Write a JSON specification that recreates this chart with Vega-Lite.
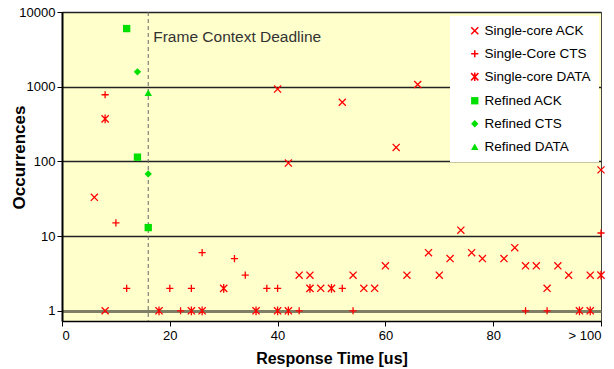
{
  "$schema": "https://vega.github.io/schema/vega-lite/v6.json",
  "width": 539,
  "height": 309,
  "autosize": "none",
  "padding": {"left": 62, "top": 12, "right": 13, "bottom": 48},
  "background": "white",
  "config": {
    "font": "Liberation Sans",
    "view": {"fill": "#FFFFCC", "stroke": "#444444", "strokeWidth": 1}
  },
  "layer": [
    {
      "data": {"values": [{}]},
      "mark": {"type": "rule", "color": "#666666", "strokeDash": [4, 3], "strokeWidth": 1},
      "encoding": {"x": {"datum": 16, "type": "quantitative", "scale": {"domain": [0, 100], "nice": false, "zero": false}}}
    },
    {
      "data": {"values": [{}]},
      "mark": {"type": "text", "align": "left", "baseline": "middle", "dx": 5, "fontSize": 15.5, "color": "#333333"},
      "encoding": {
        "x": {"datum": 16, "type": "quantitative"},
        "y": {"datum": 4600, "type": "quantitative"},
        "text": {"value": "Frame Context Deadline"}
      }
    },
    {
      "data": {
        "values": [
          {"x": 6, "y": 33, "s": "Single-core ACK"},
          {"x": 8, "y": 1, "s": "Single-core ACK"},
          {"x": 40, "y": 930, "s": "Single-core ACK"},
          {"x": 42, "y": 95, "s": "Single-core ACK"},
          {"x": 52, "y": 620, "s": "Single-core ACK"},
          {"x": 62, "y": 154, "s": "Single-core ACK"},
          {"x": 66, "y": 1070, "s": "Single-core ACK"},
          {"x": 100, "y": 77, "s": "Single-core ACK"},
          {"x": 44, "y": 3, "s": "Single-core ACK"},
          {"x": 46, "y": 3, "s": "Single-core ACK"},
          {"x": 54, "y": 3, "s": "Single-core ACK"},
          {"x": 64, "y": 3, "s": "Single-core ACK"},
          {"x": 70, "y": 3, "s": "Single-core ACK"},
          {"x": 48, "y": 2, "s": "Single-core ACK"},
          {"x": 56, "y": 2, "s": "Single-core ACK"},
          {"x": 58, "y": 2, "s": "Single-core ACK"},
          {"x": 60, "y": 4, "s": "Single-core ACK"},
          {"x": 68, "y": 6, "s": "Single-core ACK"},
          {"x": 72, "y": 5, "s": "Single-core ACK"},
          {"x": 74, "y": 12, "s": "Single-core ACK"},
          {"x": 76, "y": 6, "s": "Single-core ACK"},
          {"x": 78, "y": 5, "s": "Single-core ACK"},
          {"x": 82, "y": 5, "s": "Single-core ACK"},
          {"x": 84, "y": 7, "s": "Single-core ACK"},
          {"x": 86, "y": 4, "s": "Single-core ACK"},
          {"x": 88, "y": 4, "s": "Single-core ACK"},
          {"x": 92, "y": 4, "s": "Single-core ACK"},
          {"x": 90, "y": 2, "s": "Single-core ACK"},
          {"x": 94, "y": 3, "s": "Single-core ACK"},
          {"x": 98, "y": 3, "s": "Single-core ACK"},
          {"x": 8, "y": 780, "s": "Single-Core CTS"},
          {"x": 10, "y": 15, "s": "Single-Core CTS"},
          {"x": 100, "y": 11, "s": "Single-Core CTS"},
          {"x": 12, "y": 2, "s": "Single-Core CTS"},
          {"x": 20, "y": 2, "s": "Single-Core CTS"},
          {"x": 24, "y": 2, "s": "Single-Core CTS"},
          {"x": 38, "y": 2, "s": "Single-Core CTS"},
          {"x": 40, "y": 2, "s": "Single-Core CTS"},
          {"x": 52, "y": 2, "s": "Single-Core CTS"},
          {"x": 26, "y": 6, "s": "Single-Core CTS"},
          {"x": 32, "y": 5, "s": "Single-Core CTS"},
          {"x": 34, "y": 3, "s": "Single-Core CTS"},
          {"x": 22, "y": 1, "s": "Single-Core CTS"},
          {"x": 44, "y": 1, "s": "Single-Core CTS"},
          {"x": 54, "y": 1, "s": "Single-Core CTS"},
          {"x": 86, "y": 1, "s": "Single-Core CTS"},
          {"x": 90, "y": 1, "s": "Single-Core CTS"},
          {"x": 8, "y": 370, "s": "Single-core DATA"},
          {"x": 30, "y": 2, "s": "Single-core DATA"},
          {"x": 46, "y": 2, "s": "Single-core DATA"},
          {"x": 50, "y": 2, "s": "Single-core DATA"},
          {"x": 100, "y": 3, "s": "Single-core DATA"},
          {"x": 18, "y": 1, "s": "Single-core DATA"},
          {"x": 24, "y": 1, "s": "Single-core DATA"},
          {"x": 26, "y": 1, "s": "Single-core DATA"},
          {"x": 36, "y": 1, "s": "Single-core DATA"},
          {"x": 40, "y": 1, "s": "Single-core DATA"},
          {"x": 42, "y": 1, "s": "Single-core DATA"},
          {"x": 96, "y": 1, "s": "Single-core DATA"},
          {"x": 98, "y": 1, "s": "Single-core DATA"},
          {"x": 12, "y": 6000, "s": "Refined ACK"},
          {"x": 14, "y": 114, "s": "Refined ACK"},
          {"x": 16, "y": 13, "s": "Refined ACK"},
          {"x": 14, "y": 1580, "s": "Refined CTS"},
          {"x": 16, "y": 68, "s": "Refined CTS"},
          {"x": 16, "y": 830, "s": "Refined DATA"}
        ]
      },
      "mark": {"type": "point", "strokeWidth": 1.3, "opacity": 1, "clip": false},
      "encoding": {
        "x": {
          "field": "x", "type": "quantitative",
          "axis": {
            "values": [0, 20, 40, 60, 80, 100],
            "labelExpr": "datum.value == 100 ? '> 100' : datum.label",
            "title": "Response Time [us]",
            "titleFontSize": 16, "titleFontWeight": "bold", "titleColor": "#000000", "titlePadding": 8,
            "labelFontSize": 13, "labelColor": "#000000", "labelPadding": 3,
            "tickSize": 5, "tickColor": "#000000", "domainColor": "#000000", "domainWidth": 1.5,
            "grid": false
          }
        },
        "y": {
          "field": "y", "type": "quantitative",
          "scale": {"type": "log", "domain": [0.73, 10000], "nice": false},
          "axis": {
            "values": [1, 10, 100, 1000, 10000],
            "format": "d",
            "title": "Occurrences",
            "titleFontSize": 17, "titleFontWeight": "bold", "titleColor": "#000000",
            "titleX": -43, "titleY": 145, "titleAngle": -90, "titleAlign": "center", "titleBaseline": "middle",
            "labelFontSize": 13, "labelColor": "#000000", "labelPadding": 2,
            "tickSize": 5, "tickColor": "#000000", "domainColor": "#000000", "domainWidth": 2,
            "grid": true,
            "gridColor": {"condition": {"test": "datum.value <= 1", "value": "#7f7f66"}, "value": "#222222"},
            "gridWidth": {"condition": {"test": "datum.value <= 1", "value": 3}, "value": 1.5},
            "gridOpacity": 1
          }
        },
        "shape": {
          "field": "s", "type": "nominal",
          "scale": {
            "domain": ["Single-core ACK", "Single-Core CTS", "Single-core DATA", "Refined ACK", "Refined CTS", "Refined DATA"],
            "range": ["M-1,-1L1,1M-1,1L1,-1", "M-1,0L1,0M0,-1L0,1", "M-1,-1L1,1M-1,1L1,-1M0,-1.2L0,1.2", "square", "diamond", "triangle-up"]
          },
          "legend": {
            "title": null, "orient": "none", "legendX": 388, "legendY": 4,
            "fillColor": "#FFFFFF", "padding": 8,
            "symbolOffset": 10, "labelOffset": 3, "labelFontSize": 13.5, "labelColor": "#000000",
            "rowPadding": 8, "labelLimit": 200
          }
        },
        "fill": {
          "field": "s", "type": "nominal",
          "scale": {
            "domain": ["Single-core ACK", "Single-Core CTS", "Single-core DATA", "Refined ACK", "Refined CTS", "Refined DATA"],
            "range": ["transparent", "transparent", "transparent", "#00E000", "#00E000", "#00E000"]
          }
        },
        "stroke": {
          "field": "s", "type": "nominal",
          "scale": {
            "domain": ["Single-core ACK", "Single-Core CTS", "Single-core DATA", "Refined ACK", "Refined CTS", "Refined DATA"],
            "range": ["#FF0000", "#FF0000", "#FF0000", "transparent", "transparent", "transparent"]
          }
        },
        "size": {
          "field": "s", "type": "nominal",
          "scale": {
            "domain": ["Single-core ACK", "Single-Core CTS", "Single-core DATA", "Refined ACK", "Refined CTS", "Refined DATA"],
            "range": [50, 56, 50, 25, 36, 42]
          }
        }
      }
    }
  ]
}
